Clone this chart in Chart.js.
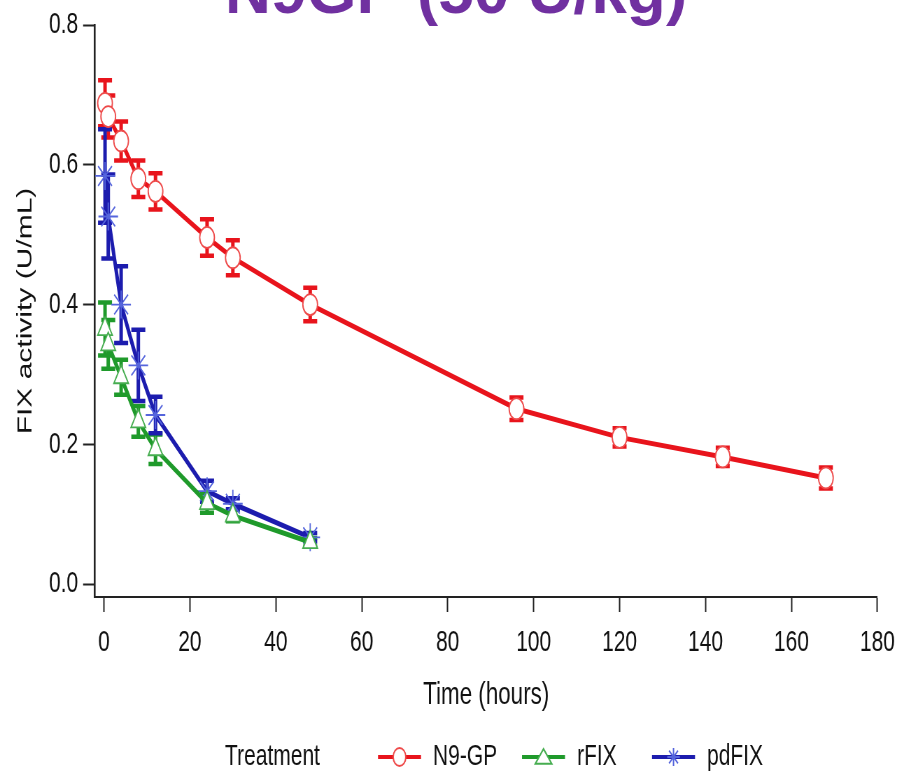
<!DOCTYPE html>
<html>
<head>
<meta charset="utf-8">
<script src="https://cdn.jsdelivr.net/npm/chart.js@4.4.1/dist/chart.umd.min.js"></script>
<style>
html, body { margin: 0; padding: 0; background: #fff; overflow: hidden; }
/* la figura original esta comprimida en horizontal */
#wrap { width: 1292px; height: 776px; transform: scaleX(0.6997); transform-origin: 0 0; }
</style>
</head>
<body>
<div id="wrap"><canvas id="pk"></canvas></div>
<script>
const SX = 904 / 1292;

const titulo = 'N9GP (50 U/kg)';
const horasN9 = [0.25, 1, 4, 8, 12, 24, 30, 48, 96, 120, 144, 168];
const horasFIX = [0.25, 1, 4, 8, 12, 24, 30, 48];

const mediaN9GP = [0.688, 0.669, 0.634, 0.580, 0.562, 0.496, 0.467, 0.400, 0.251, 0.210, 0.182, 0.152];
const errN9GP = [0.033, 0.030, 0.028, 0.026, 0.026, 0.026, 0.025, 0.024, 0.016, 0.013, 0.013, 0.015];

const mediaRFIX = [0.365, 0.343, 0.296, 0.233, 0.193, 0.116, 0.098, 0.060];
const errRFIX = [0.038, 0.035, 0.025, 0.022, 0.021, 0.014, 0.008, 0.006];

const mediaPdFIX = [0.584, 0.526, 0.400, 0.313, 0.242, 0.133, 0.115, 0.067];
const errPdFIX = [0.067, 0.060, 0.055, 0.051, 0.026, 0.015, 0.008, 0.006];

const ticksX = [0, 20, 40, 60, 80, 100, 120, 140, 160, 180];
const ticksY = [0.0, 0.2, 0.4, 0.6, 0.8];

const fuente = '"Liberation Sans", Arial, sans-serif';

function puntos(horas, medias) {
    return horas.map((h, i) => ({ x: h, y: medias[i] }));
}

function marcador(ctx, estilo, x, y, r) {
    ctx.beginPath();
    if (estilo === 'circle') {
        ctx.arc(x, y, r, 0, Math.PI * 2);
        ctx.fill();
        ctx.stroke();
    } else if (estilo === 'triangle') {
        const h = r * 1.5, s = r * 1.3;
        ctx.moveTo(x, y - h * 0.6);
        ctx.lineTo(x + s, y + h * 0.5);
        ctx.lineTo(x - s, y + h * 0.5);
        ctx.closePath();
        ctx.fill();
        ctx.stroke();
    } else {
        for (let k = 0; k < 4; k++) {
            const a = k * Math.PI / 4;
            ctx.moveTo(x - Math.sin(a) * r, y - Math.cos(a) * r);
            ctx.lineTo(x + Math.sin(a) * r, y + Math.cos(a) * r);
        }
        ctx.stroke();
    }
}

// barras de error (media +/- error) antes de dibujar las series
const barrasError = {
    id: 'barrasError',
    beforeDatasetsDraw(chart) {
        const { ctx, scales: { x, y } } = chart;
        chart.data.datasets.forEach(ds => {
            ctx.save();
            ctx.strokeStyle = ds.borderColor;
            ctx.lineCap = 'butt';
            ds.errores.forEach((e, i) => {
                const p = ds.data[i];
                const px = x.getPixelForValue(p.x);
                const yTop = y.getPixelForValue(p.y + e);
                const yBot = y.getPixelForValue(p.y - e);
                ctx.lineWidth = 5;
                ctx.beginPath();
                ctx.moveTo(px, yTop);
                ctx.lineTo(px, yBot);
                ctx.stroke();
                ctx.lineWidth = 4.5;
                ctx.beginPath();
                ctx.moveTo(px - 10, yTop); ctx.lineTo(px + 10, yTop);
                ctx.moveTo(px - 10, yBot); ctx.lineTo(px + 10, yBot);
                ctx.stroke();
            });
            ctx.restore();
        });
    }
};

// titulo y leyenda sin la compresion horizontal
const textos = {
    id: 'textos',
    afterDraw(chart) {
        const ctx = chart.ctx;
        ctx.save();
        ctx.translate(456 / SX, 13);
        ctx.scale(1 / SX, 1);
        ctx.font = 'bold 64px ' + fuente;
        ctx.fillStyle = '#7030a0';
        ctx.textAlign = 'center';
        ctx.textBaseline = 'alphabetic';
        ctx.fillText(titulo, 0, 0);
        ctx.restore();

        const yL = 757;
        ctx.save();
        ctx.font = '30px ' + fuente;
        ctx.fillStyle = '#111';
        ctx.textBaseline = 'middle';
        ctx.fillText('Treatment', 225 / SX, yL);
        const inicios = [378, 522, 652];
        chart.data.datasets.forEach((ds, i) => {
            const x0 = inicios[i] / SX, x1 = x0 + 43 / SX, xm = (x0 + x1) / 2;
            ctx.strokeStyle = ds.borderColor;
            ctx.lineWidth = 4;
            ctx.beginPath();
            ctx.moveTo(x0, yL); ctx.lineTo(x1, yL);
            ctx.stroke();
            ctx.fillStyle = '#fff';
            ctx.strokeStyle = ds.pointBorderColor;
            ctx.lineWidth = 2;
            marcador(ctx, ds.pointStyle, xm, yL, 9);
            ctx.fillStyle = '#111';
            ctx.fillText(ds.label, x1 + 12 / SX, yL);
        });
        ctx.restore();
    }
};

function serie(label, horas, medias, errores, color, colorPunto, estilo, radio) {
    return {
        label: label,
        data: puntos(horas, medias),
        errores: errores,
        showLine: true,
        borderColor: color,
        borderWidth: 5,
        pointStyle: estilo,
        pointRadius: radio,
        pointBorderColor: colorPunto,
        pointBackgroundColor: '#fff',
        pointBorderWidth: 1.8
    };
}

const ctx = document.getElementById('pk').getContext('2d');
const pkChart = new Chart(ctx, {
    type: 'scatter',
    data: {
        datasets: [
            serie('N9-GP', horasN9, mediaN9GP, errN9GP, '#e8141c', '#ee4a4a', 'circle', 10.5),
            serie('rFIX', horasFIX, mediaRFIX, errRFIX, '#1f9a2b', '#46ad50', 'triangle', 12),
            serie('pdFIX', horasFIX, mediaPdFIX, errPdFIX, '#1c1cae', '#5565dc', 'star', 14)
        ]
    },
    options: {
        responsive: true,
        maintainAspectRatio: false,
        animation: false,
        layout: { padding: { top: 21, right: 1292 - 880 / SX, bottom: 0, left: 0 } },
        plugins: {
            legend: { display: false },
            tooltip: { enabled: false },
            title: { display: false }
        },
        scales: {
            x: {
                type: 'linear',
                min: -2.08,
                max: 180,
                afterBuildTicks: s => { s.ticks = ticksX.map(v => ({ value: v })); },
                afterFit: s => { s.height = 776 - 597; },
                grid: { drawOnChartArea: false, drawTicks: true, tickLength: 15, tickWidth: 2, tickColor: '#222' },
                border: { display: true, color: '#222', width: 2 },
                ticks: { padding: 13, color: '#111', font: { family: fuente, size: 30 }, maxRotation: 0, autoSkip: false },
                title: { display: true, text: 'Time (hours)', color: '#111', font: { family: fuente, size: 32 }, padding: { top: 62, bottom: 62 } }
            },
            y: {
                min: -0.0184,
                max: 0.8,
                afterBuildTicks: s => { s.ticks = ticksY.map(v => ({ value: v })); },
                afterFit: s => { s.width = 95 / SX; },
                grid: { drawOnChartArea: false, drawTicks: true, tickLength: 17, tickWidth: 2, tickColor: '#222' },
                border: { display: true, color: '#222', width: 2.6 },
                ticks: { padding: 7, color: '#111', font: { family: fuente, size: 30 }, callback: v => v.toFixed(1) },
                title: { display: true, text: 'FIX activity (U/mL)', color: '#111', font: { family: fuente, size: 30 }, padding: { top: 19, bottom: 19 } }
            }
        }
    },
    plugins: [barrasError, textos]
});
</script>
</body>
</html>
